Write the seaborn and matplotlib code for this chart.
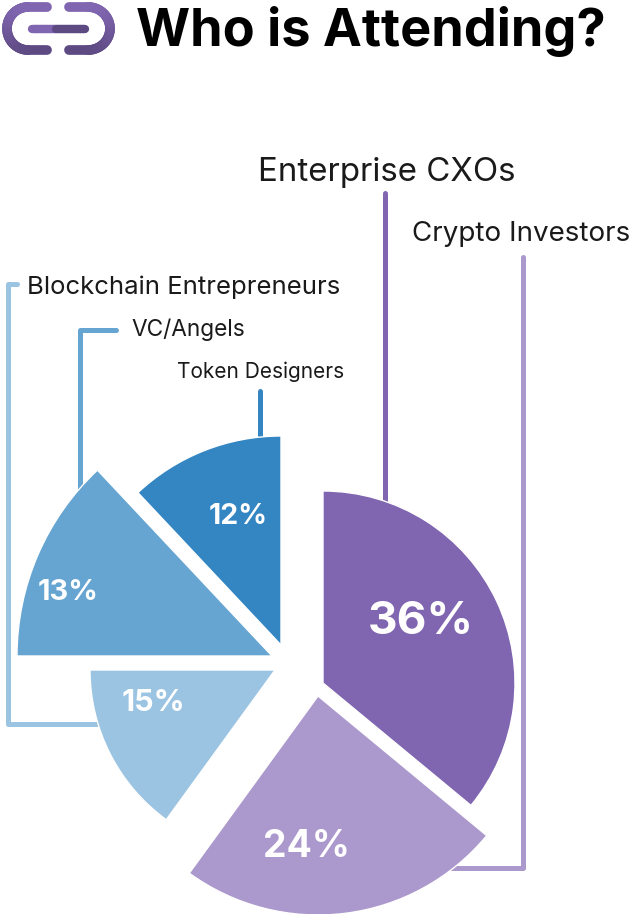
import numpy as np
import pandas as pd
import matplotlib
matplotlib.use("Agg")
import matplotlib.pyplot as plt
from matplotlib.collections import LineCollection
import seaborn as sns

# Chart values
groups = ["Enterprise CXOs", "Crypto Investors", "Blockchain Entrepreneurs", "VC/Angels", "Token Designers"]
shares = [36, 24, 15, 13, 12]
title = "Who is Attending?"

# Look of each slice
colors = ["#8065B0", "#AB98CC", "#9BC3E2", "#66A5D2", "#3486C3"]
radii = [192, 219, 185, 255, 209]
apex_x = [323, 318, 275, 272, 281]
apex_y = [683, 696, 670, 656, 645]
value_x = [421, 306, 153, 68, 238]
value_y = [622, 847, 703, 592, 516]
value_size = [33, 27, 22, 21, 20.5]
label_x = [258, 412, 27, 131, 177]
label_y = [181, 241, 294, 336, 378]
label_size = [23.8, 20, 18.5, 16.3, 15]

# Leader lines, in image pixels
leaders = [
    ([385, 385], [193, 510]),
    ([523, 523, 440], [257, 868, 868]),
    ([17, 8, 8, 105], [284, 284, 724, 724]),
    ([116, 80, 80], [330, 330, 495]),
    ([260, 260], [391, 445]),
]

H = 914
sns.set_theme(style="white")
plt.rcParams["font.family"] = ["Inter", "DejaVu Sans"]

df = pd.DataFrame({"group": groups, "share": shares, "color": colors})

fig = plt.figure(figsize=(6.3, 9.14), dpi=100)
ax = fig.add_axes([0, 0, 1, 1])


def fy(y):
    return H - np.asarray(y)


# leader lines sit under the slices
for (xs, ys), c in zip(leaders, colors):
    ax.plot(xs, fy(ys), color=c, lw=3.6, solid_capstyle="round", solid_joinstyle="round", zorder=1)

# every slice is its own pie so it can have its own radius and centre
done = 0
for i, row in df.iterrows():
    wedges, _ = ax.pie(
        [row.share, 100 - row.share],
        colors=[row.color, "none"],
        startangle=90 - 3.6 * done,
        counterclock=False,
        radius=radii[i],
        center=(apex_x[i], fy(apex_y[i])),
        frame=True,
    )
    wedges[0].set_zorder(2)
    wedges[1].set_visible(False)
    done += row.share
    ax.text(value_x[i], fy(value_y[i]), f"{row.share}%", color="white", fontsize=value_size[i],
            fontweight="bold", ha="center", va="center", zorder=3)
    ax.text(label_x[i], fy(label_y[i]), row.group, color="#1a1a1a", fontsize=label_size[i],
            ha="left", va="baseline", zorder=3)

ax.text(136, fy(46), title, color="black", fontsize=37.6, fontweight="bold", ha="left", va="baseline")


# link icon at the top left
def link_side(x_end, x_mid, x_edge):
    t = np.linspace(-np.pi / 2, np.pi / 2, 40)
    px = np.r_[x_end, x_mid + (x_edge - x_mid) * np.cos(t), x_end]
    py = np.r_[50, 28.5 - 21.5 * np.sin(t), 7]
    return px, py


ramp = sns.blend_palette(["#8065B0", "#5E4A83"], 50)
for x_end, x_mid, x_edge in [(47, 28, 7), (69, 88, 110)]:
    px, py = link_side(x_end, x_mid, x_edge)
    pts = np.column_stack([px, fy(py)])
    segs = np.stack([pts[:-1], pts[1:]], axis=1)
    seg_colors = [ramp[int(np.clip((y - 7) / 43 * 49, 0, 49))] for y in py[:-1]]
    ax.add_collection(LineCollection(segs, colors=seg_colors, linewidths=7, capstyle="round", zorder=3))

bar_x = np.linspace(32, 85, 30)
bar_pts = np.column_stack([bar_x, fy(np.full(30, 29))])
bar_segs = np.stack([bar_pts[:-1], bar_pts[1:]], axis=1)
bar_colors = ["#8065B0" if x < 55 else "#5E4A83" for x in bar_x[:-1]]
ax.add_collection(LineCollection(bar_segs, colors=bar_colors, linewidths=6, capstyle="round", zorder=3))

ax.set_xlim(0, 630)
ax.set_ylim(0, H)
ax.set_aspect("equal")
ax.axis("off")

fig.savefig("out.png", dpi=100, facecolor="white")
